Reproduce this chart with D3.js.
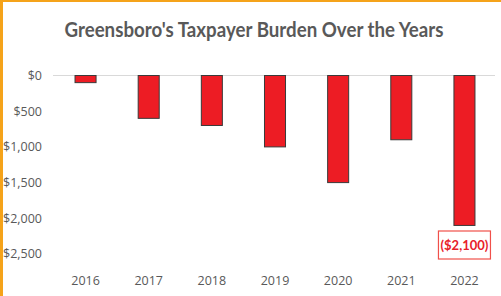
<!DOCTYPE html>
<html>
<head>
<meta charset="utf-8">
<script src="https://cdn.jsdelivr.net/npm/d3@7"></script>
<style>
  body { margin: 0; background: #fff; }
  svg { display: block; }
</style>
</head>
<body>
<svg id="chart"></svg>
<script>
var years = ["2016", "2017", "2018", "2019", "2020", "2021", "2022"];
var burden = [-100, -600, -700, -1000, -1500, -900, -2100];
var yTicks = [0, -500, -1000, -1500, -2000, -2500];
var calloutText = "($2,100)";

var width = 501, height = 296;

var svg = d3.select('#chart')
	.attr('width', width)
	.attr('height', height);

// orange frame (top + left)
svg.append('rect')
	.attr('x', 0).attr('y', 0)
	.attr('width', width).attr('height', 2)
	.attr('fill', '#F5A31A');
svg.append('rect')
	.attr('x', 0).attr('y', 0)
	.attr('width', 3).attr('height', height)
	.attr('fill', '#F5A31A');

// title, squeezed to the narrow width of the original
svg.append('text')
	.attr('x', 254)
	.attr('y', 37)
	.attr('text-anchor', 'middle')
	.attr('textLength', 379)
	.attr('lengthAdjust', 'spacingAndGlyphs')
	.style('font-family', 'Lato')
	.style('font-weight', 'bold')
	.style('font-size', '21px')
	.attr('fill', '#595959')
	.text("Greensboro's Taxpayer Burden Over the Years");

var x = d3.scaleBand()
	.domain(years)
	.range([54, 496])
	.paddingInner(0.667)
	.paddingOuter(0.333);

var y = d3.scaleLinear()
	.domain([0, -2500])
	.range([75.5, 254]);

// zero line
svg.append('line')
	.attr('x1', 53).attr('x2', 495)
	.attr('y1', y(0)).attr('y2', y(0))
	.attr('stroke', '#d9d9d9')
	.attr('stroke-width', 1);

// y labels
var fmt = d3.format(',');
svg.append('g')
	.selectAll('text')
	.data(yTicks)
	.enter()
	.append('text')
		.attr('x', 42)
		.attr('y', d => y(d))
		.attr('dy', '0.35em')
		.attr('text-anchor', 'end')
		.style('font-family', 'Open Sans')
		.style('font-size', '12.5px')
		.attr('fill', '#595959')
		.text(d => '$' + fmt(Math.abs(d)));

// bars
svg.append('g')
	.selectAll('rect')
	.data(burden)
	.enter()
	.append('rect')
		.attr('x', (d, i) => x(years[i]))
		.attr('y', y(0))
		.attr('width', x.bandwidth())
		.attr('height', d => y(d) - y(0))
		.attr('fill', '#ED1C24')
		.attr('stroke', '#3a3a3a')
		.attr('stroke-width', 1);

// x labels
svg.append('g')
	.selectAll('text')
	.data(years)
	.enter()
	.append('text')
		.attr('x', d => x(d) + x.bandwidth() / 2)
		.attr('y', 285)
		.attr('text-anchor', 'middle')
		.style('font-family', 'Open Sans')
		.style('font-size', '12.5px')
		.attr('fill', '#595959')
		.text(d => d);

// callout for last bar
var last = years[years.length - 1];
var cx = x(last) + x.bandwidth() / 2;
svg.append('rect')
	.attr('x', cx - 26)
	.attr('y', 231)
	.attr('width', 52)
	.attr('height', 28)
	.attr('fill', '#fff')
	.attr('stroke', '#F0504A')
	.attr('stroke-width', 1.2);
svg.append('text')
	.attr('x', cx)
	.attr('y', 245)
	.attr('dy', '0.35em')
	.attr('text-anchor', 'middle')
	.style('font-family', 'Lato')
	.style('font-weight', 'bold')
	.style('font-size', '13px')
	.attr('fill', '#E8202A')
	.text(calloutText);
</script>
</body>
</html>
